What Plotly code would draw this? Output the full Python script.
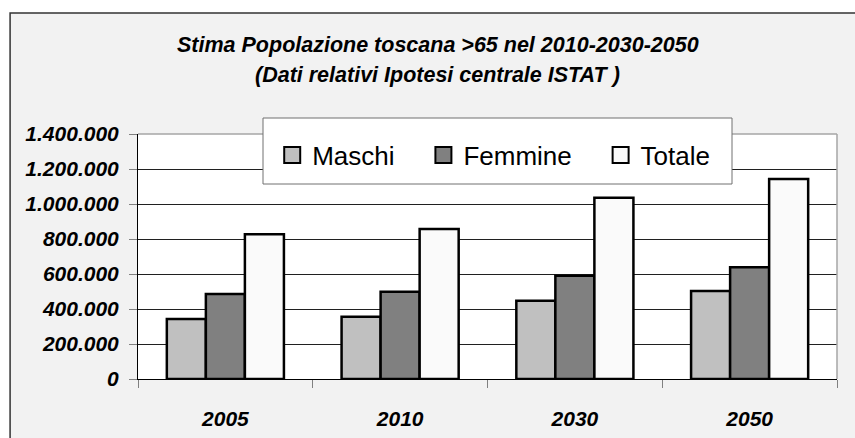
import plotly.graph_objects as go

anni = ['2005', '2010', '2030', '2050']
maschi = [343000, 356000, 447000, 503000]
femmine = [486000, 499000, 590000, 638000]
totale = [827000, 857000, 1036000, 1143000]

titolo1 = 'Stima Popolazione toscana >65 nel 2010-2030-2050'
titolo2 = '(Dati relativi Ipotesi centrale ISTAT )'

# trailing non-breaking spaces widen the gaps between legend entries
PAD = '\u00a0\u00a0\u00a0\u200a'
serie = [('Maschi', maschi, '#c0c0c0', PAD),
         ('Femmine', femmine, '#808080', PAD),
         ('Totale', totale, '#fafafa', '')]

FONT = 'Liberation Sans, Arial, sans-serif'

fig = go.Figure()
for nome, vals, col, pad in serie:
    fig.add_trace(go.Bar(x=anni, y=vals, name=nome, showlegend=False,
                         marker=dict(color=col, line=dict(color='black', width=2.5))))
# legend entries with bigger square symbols
for nome, vals, col, pad in serie:
    fig.add_trace(go.Scatter(x=[None], y=[None], mode='markers', name=nome + pad,
                             marker=dict(symbol='square', size=18, color=col,
                                         line=dict(color='black', width=2))))

fig.update_layout(
    width=855, height=438,
    margin=dict(l=138, r=18, t=134, b=59),
    paper_bgcolor='white', plot_bgcolor='rgba(0,0,0,0)',
    separators=',.',
    barmode='group', bargap=0.33, bargroupgap=0,
    font=dict(family=FONT, color='black'),
    legend=dict(orientation='h', x=0.192, xanchor='left', y=0.914, yanchor='middle',
                bgcolor='rgba(0,0,0,0)', borderwidth=0,
                font=dict(size=26, family=FONT, color='black')),
    shapes=[
        # outer frame
        dict(type='rect', xref='paper', yref='paper', x0=-0.183, x1=1.1, y0=-0.4, y1=1.494,
             fillcolor='#f2f2f2', line=dict(color='#333333', width=1.5), layer='below'),
        # plot area
        dict(type='rect', xref='paper', yref='paper', x0=0, x1=1, y0=0, y1=1,
             fillcolor='white', line=dict(width=0), layer='below'),
        # grey top / right border of the plot area
        dict(type='line', xref='paper', yref='paper', x0=0, x1=1, y0=1, y1=1,
             line=dict(color='#a6a6a6', width=1.5), layer='above'),
        dict(type='line', xref='paper', yref='paper', x0=1, x1=1, y0=0, y1=1,
             line=dict(color='#a6a6a6', width=1.5), layer='above'),
        # legend box
        dict(type='rect', xref='paper', yref='paper',
             x0=(263 - 138) / 699, x1=(732 - 138) / 699,
             y0=(379 - 184) / 245, y1=(379 - 118) / 245,
             fillcolor='white', line=dict(color='#707070', width=1), layer='above'),
    ],
    annotations=[
        dict(text='<b><i>' + titolo1 + '</i></b>', xref='paper', yref='paper',
             x=0.429, y=1.363, xanchor='center', yanchor='middle', showarrow=False,
             font=dict(size=21.5, family=FONT, color='black')),
        dict(text='<b><i>' + titolo2 + '</i></b>', xref='paper', yref='paper',
             x=0.429, y=1.241, xanchor='center', yanchor='middle', showarrow=False,
             font=dict(size=21.5, family=FONT, color='black')),
    ],
)

fig.update_xaxes(type='category', showline=True, linecolor='black', linewidth=1,
                 ticks='outside', tickson='boundaries', ticklen=8, tickcolor='#808080',
                 showgrid=False, ticklabelstandoff=21, automargin=False,
                 tickfont=dict(size=21, family=FONT, weight='bold', style='italic', color='black'))
fig.update_yaxes(range=[0, 1400000], dtick=200000, tickformat=',d',
                 showline=True, linecolor='black', linewidth=1,
                 ticks='outside', ticklen=8, tickcolor='#808080',
                 showgrid=True, gridcolor='#202020', gridwidth=1, zeroline=False,
                 ticklabelstandoff=6, automargin=False,
                 tickfont=dict(size=21, family=FONT, weight='bold', style='italic', color='black'))

fig.write_html('out.html', config={'displayModeBar': False},
               post_script="document.body.style.margin='0';")
